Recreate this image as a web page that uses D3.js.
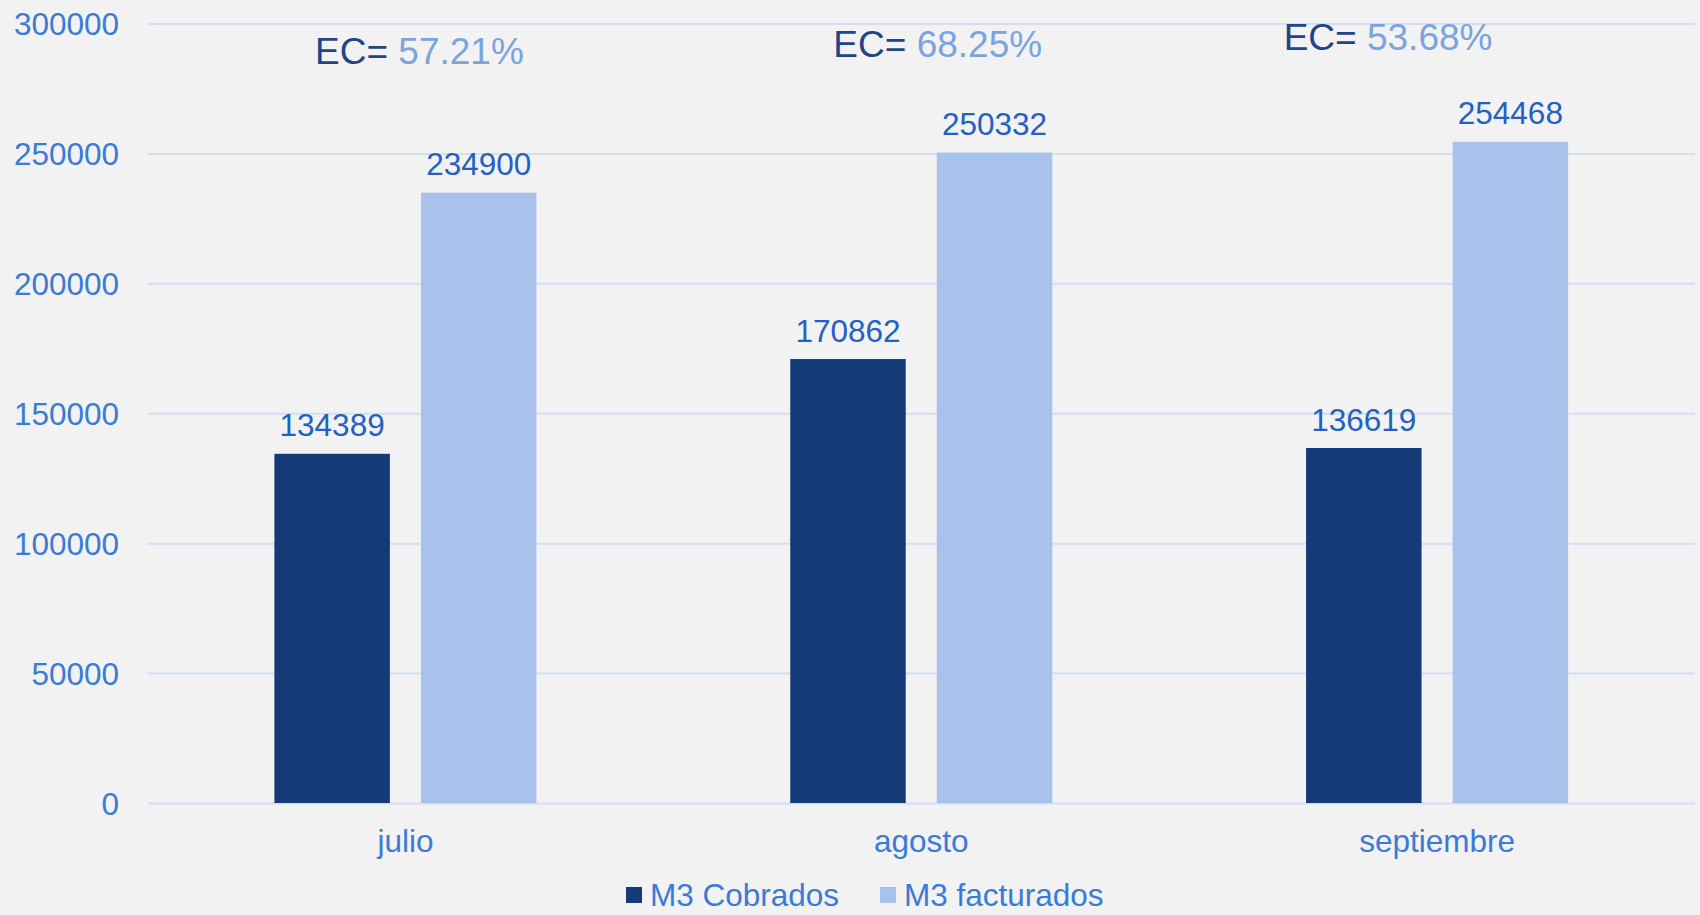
<!DOCTYPE html>
<html>
<head>
<meta charset="utf-8">
<script src="https://cdn.jsdelivr.net/npm/d3@7"></script>
<style>
  html, body { margin: 0; padding: 0; background: #F2F2F2; }
  svg { display: block; font-family: "Liberation Sans", Arial, sans-serif; }
</style>
</head>
<body>
<svg id="chart" width="1700" height="915"></svg>
<script>
// ---- data ----
const categories = ["julio", "agosto", "septiembre"];
const seriesNames = ["M3 Cobrados", "M3 facturados"];
const cobrados = [134389, 170862, 136619];
const facturados = [234900, 250332, 254468];
const ecPercent = ["57.21%", "68.25%", "53.68%"];
const yTicks = [0, 50000, 100000, 150000, 200000, 250000, 300000];

// ---- layout / style ----
const W = 1700, H = 915;
const plot = { left: 147.5, right: 1695, top: 23.5, bottom: 803 };
const colors = ["#153A78", "#A9C2EC"];
const ecLayout = [ { dx: 14, y: 64 }, { dx: 16.5, y: 56.7 }, { dx: -49, y: 50 } ];

const svg = d3.select("#chart");
svg.append("rect").attr("width", W).attr("height", H).attr("fill", "#F2F2F2");

const y = d3.scaleLinear().domain([0, 300000]).range([plot.bottom, plot.top]);
const x0 = d3.scaleBand().domain(categories).range([plot.left, plot.right])
  .paddingInner(0.492).paddingOuter(0.246);
const x1 = d3.scaleBand().domain(seriesNames).range([0, x0.bandwidth()]).paddingInner(0.212);

// gridlines
const yAxis = d3.axisLeft(y).tickValues(yTicks).tickSize(-(plot.right - plot.left)).tickFormat(d => d);
const gAxis = svg.append("g").attr("transform", `translate(${plot.left},0)`).call(yAxis);
gAxis.select(".domain").remove();
gAxis.selectAll(".tick line").attr("stroke", "#D2DEF3").attr("stroke-width", 2);
gAxis.selectAll(".tick text")
  .attr("x", -28.5).attr("dy", "0.35em")
  .attr("fill", "#3A7ADB").attr("font-size", "31.5px")
  .style("font-family", "'Liberation Sans', Arial, sans-serif");

const rows = categories.map((c, i) => ({ cat: c, vals: [cobrados[i], facturados[i]] }));

const groups = svg.append("g").selectAll("g").data(rows).join("g")
  .attr("transform", d => `translate(${x0(d.cat)},0)`);

groups.selectAll("rect").data(d => d.vals.map((v, j) => ({ s: seriesNames[j], v, j })))
  .join("rect")
  .attr("x", d => x1(d.s))
  .attr("width", x1.bandwidth())
  .attr("y", d => y(d.v))
  .attr("height", d => y(0) - y(d.v))
  .attr("fill", d => colors[d.j]);

groups.selectAll("text.val").data(d => d.vals.map((v, j) => ({ s: seriesNames[j], v, j })))
  .join("text").attr("class", "val")
  .attr("x", d => x1(d.s) + x1.bandwidth() / 2)
  .attr("y", d => y(d.v) - 17.5)
  .attr("text-anchor", "middle")
  .attr("fill", "#2160C8")
  .attr("font-size", "31.5px")
  .text(d => d.v);

// x labels
svg.append("g").selectAll("text").data(categories).join("text")
  .attr("x", d => x0(d) + x0.bandwidth() / 2)
  .attr("y", 851.7)
  .attr("text-anchor", "middle")
  .attr("fill", "#3A7ADB")
  .attr("font-size", "31.5px")
  .text(d => d);

// EC annotations
const ec = svg.append("g").selectAll("text").data(categories).join("text")
  .attr("x", (d, i) => x0(d) + x0.bandwidth() / 2 + ecLayout[i].dx)
  .attr("y", (d, i) => ecLayout[i].y)
  .attr("text-anchor", "middle")
  .attr("font-size", "37px");
ec.append("tspan").attr("fill", "#1F4587").text("EC= ");
ec.append("tspan").attr("fill", "#7BA3E0").text((d, i) => ecPercent[i]);

// legend
const legendItems = [ { x: 626, tx: 650 }, { x: 880, tx: 904 } ];
const legendY = 906;
const lg = svg.append("g").selectAll("g").data(seriesNames).join("g");
lg.append("rect")
  .attr("x", (d, i) => legendItems[i].x).attr("y", legendY - 19)
  .attr("width", 16).attr("height", 16)
  .attr("fill", (d, i) => colors[i]);
lg.append("text")
  .attr("x", (d, i) => legendItems[i].tx).attr("y", legendY)
  .attr("fill", "#3A7ADB").attr("font-size", "31.5px")
  .text(d => d);
</script>
</body>
</html>
